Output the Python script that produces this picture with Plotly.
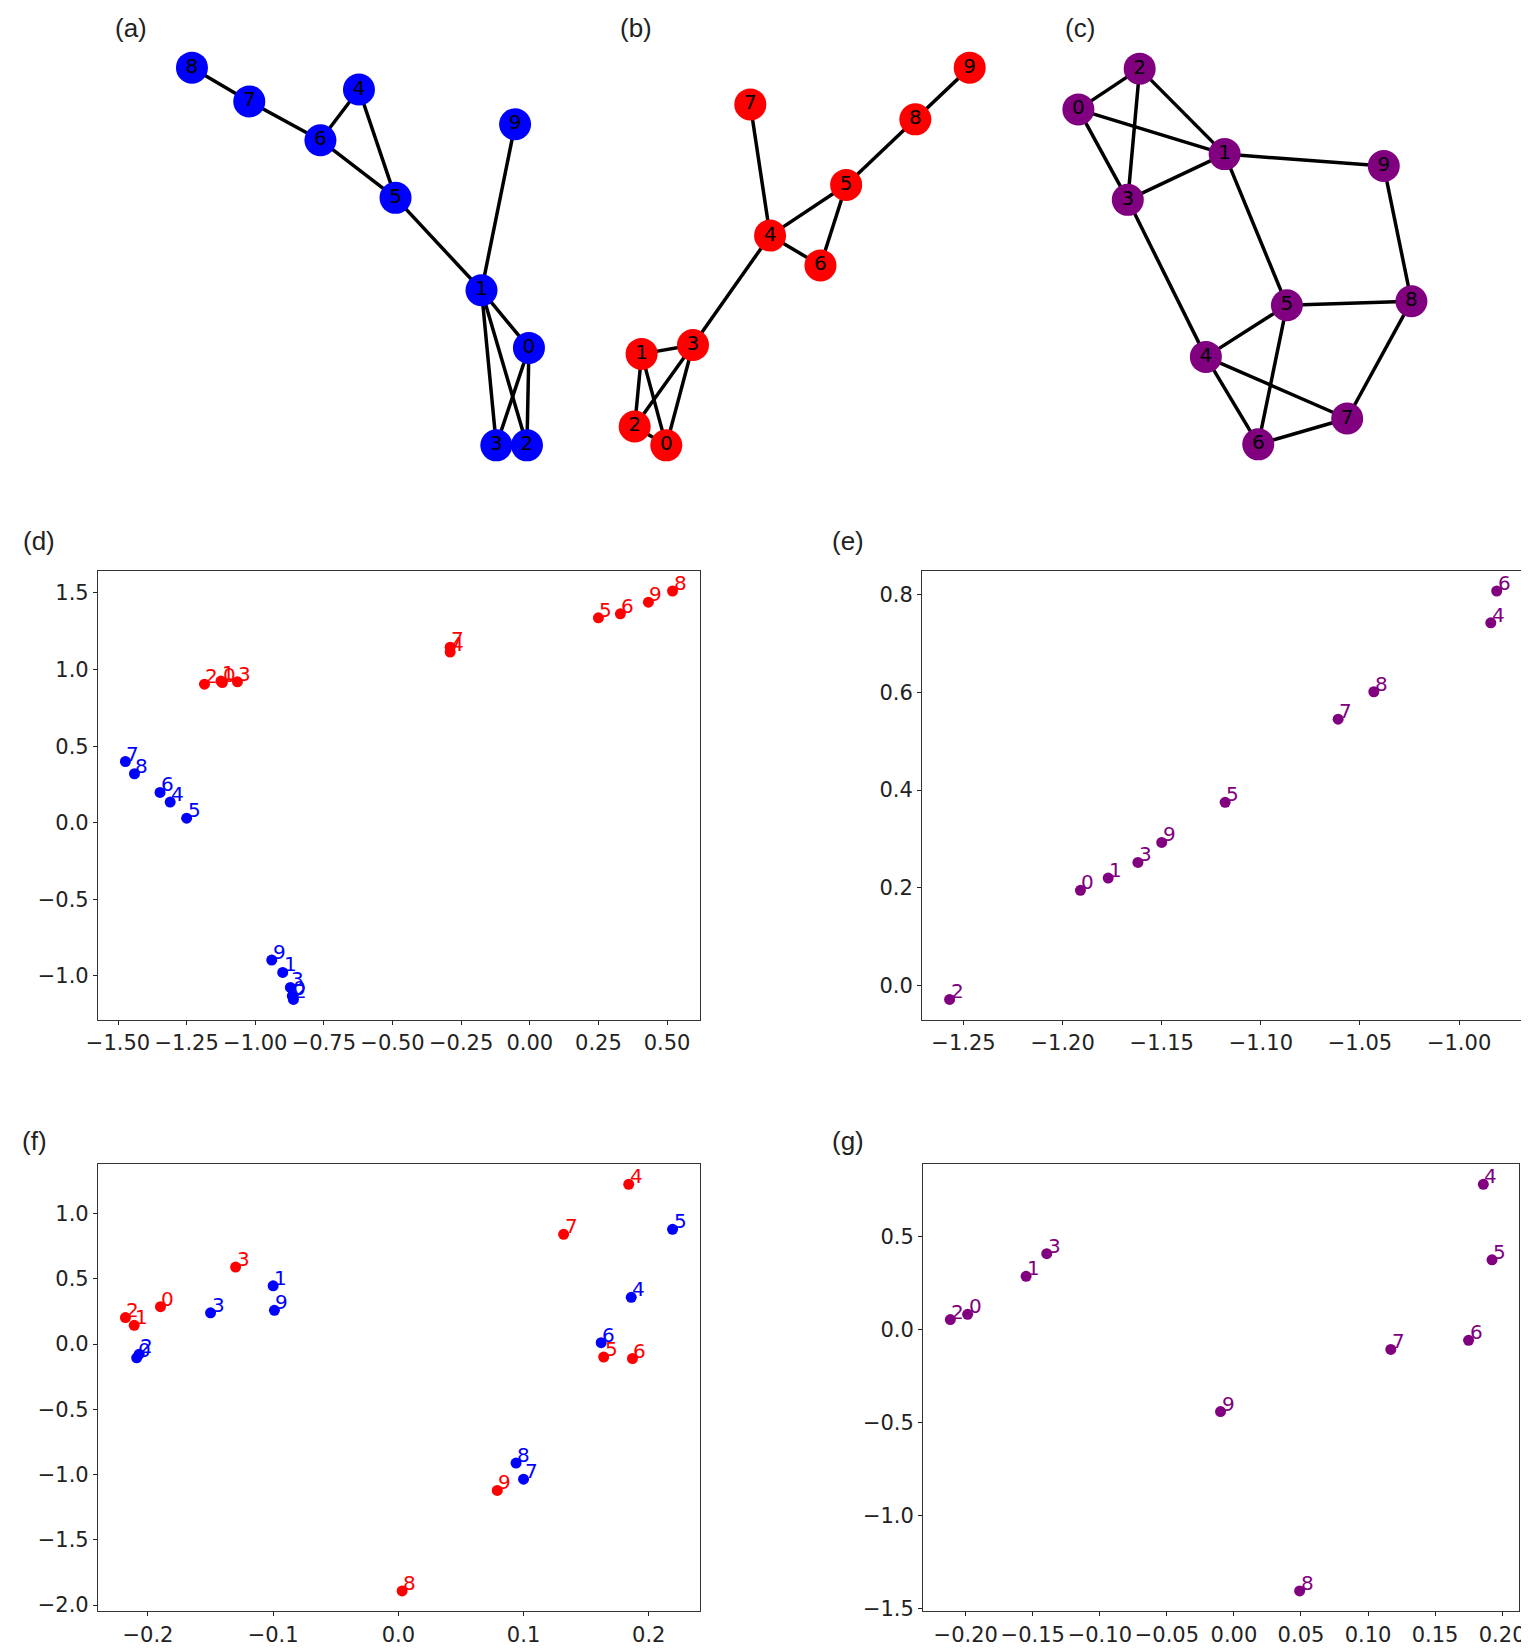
import plotly.graph_objects as go

# ---- graph drawings (a)-(c): node layout, page pixels ----
a_x = [515, 467, 513, 482, 343, 380, 304, 232, 174, 501]
a_y = [342, 284, 440, 440, 82, 191, 133, 94, 60, 117]
a_edges = [(8, 7), (7, 6), (6, 4), (6, 5), (4, 5), (5, 1), (1, 9), (1, 0),
           (1, 3), (1, 2), (0, 3), (0, 2)]

b_x = [654, 629, 622, 681, 759, 836, 810, 739, 906, 961]
b_y = [440, 348, 421, 339, 229, 178, 259, 97, 112, 60]
b_edges = [(7, 4), (4, 5), (4, 6), (5, 6), (5, 8), (8, 9), (4, 3), (3, 1),
           (1, 2), (1, 0), (3, 2), (3, 0), (2, 0)]

c_x = [1071, 1219, 1133, 1121, 1200, 1282, 1253, 1343, 1408, 1380]
c_y = [102, 147, 61, 193, 351, 299, 439, 413, 295, 159]
c_edges = [(0, 2), (0, 1), (0, 3), (2, 3), (2, 1), (1, 3), (1, 9), (1, 5),
           (3, 4), (9, 8), (5, 8), (5, 4), (5, 6), (4, 6), (4, 7), (6, 7), (8, 7)]

labels = [str(i) for i in range(10)]

# ---- embeddings (d)-(g), node i at index i ----
d_blue_x = [-0.865, -0.900, -0.861, -0.872, -1.310, -1.250, -1.347, -1.473, -1.440, -0.940]
d_blue_y = [-1.130, -0.977, -1.153, -1.075, 0.135, 0.030, 0.198, 0.400, 0.320, -0.896]
d_red_x = [-1.120, -1.125, -1.185, -1.065, -0.290, 0.250, 0.330, -0.290, 0.520, 0.432]
d_red_y = [0.915, 0.925, 0.905, 0.920, 1.114, 1.338, 1.364, 1.146, 1.513, 1.440]

e_x = [-1.191, -1.177, -1.257, -1.162, -0.984, -1.118, -0.981, -1.061, -1.043, -1.150]
e_y = [0.195, 0.220, -0.028, 0.252, 0.742, 0.375, 0.807, 0.545, 0.601, 0.293]

f_blue_x = [-0.209, -0.100, -0.207, -0.150, 0.186, 0.219, 0.162, 0.100, 0.094, -0.099]
f_blue_y = [-0.105, 0.447, -0.077, 0.240, 0.359, 0.880, 0.011, -1.035, -0.911, 0.259]
f_red_x = [-0.190, -0.211, -0.218, -0.130, 0.184, 0.164, 0.187, 0.132, 0.003, 0.079]
f_red_y = [0.287, 0.144, 0.204, 0.591, 1.225, -0.099, -0.110, 0.842, -1.891, -1.121]

g_x = [-0.1986, -0.155, -0.2115, -0.1396, 0.186, 0.1925, 0.175, 0.117, 0.049, -0.010]
g_y = [0.082, 0.286, 0.054, 0.408, 0.781, 0.375, -0.058, -0.107, -1.405, -0.441]

# tick values and decimals per panel
d_xticks = [-1.5, -1.25, -1.0, -0.75, -0.5, -0.25, 0.0, 0.25, 0.5]
d_yticks = [-1.0, -0.5, 0.0, 0.5, 1.0, 1.5]
e_xticks = [-1.25, -1.20, -1.15, -1.10, -1.05, -1.00]
e_yticks = [0.0, 0.2, 0.4, 0.6, 0.8]
f_xticks = [-0.2, -0.1, 0.0, 0.1, 0.2]
f_yticks = [-2.0, -1.5, -1.0, -0.5, 0.0, 0.5, 1.0]
g_xticks = [-0.20, -0.15, -0.10, -0.05, 0.0, 0.05, 0.10, 0.15, 0.20]
g_yticks = [-1.5, -1.0, -0.5, 0.0, 0.5]

BLUE = "#0000ff"
RED = "#ff0000"
PURPLE = "#800080"
W, H = 1529, 1652
TOP_H = 470


def fmt(vals, nd):
    return [f"{v:.{nd}f}".replace("-", "\u2212") for v in vals]


def padded(*arrs):
    lo = min(min(a) for a in arrs)
    hi = max(max(a) for a in arrs)
    m = (hi - lo) * 0.05
    return [lo - m, hi + m]


fig = go.Figure()

# ---- top row: networks ----
for xs, ys, edges, col in [(a_x, a_y, a_edges, BLUE),
                           (b_x, b_y, b_edges, RED),
                           (c_x, c_y, c_edges, PURPLE)]:
    ex, ey = [], []
    for u, v in edges:
        ex += [xs[u], xs[v], None]
        ey += [ys[u], ys[v], None]
    fig.add_trace(go.Scatter(x=ex, y=ey, mode="lines", xaxis="x5", yaxis="y5",
                             line=dict(color="black", width=3.5), hoverinfo="skip"))
    fig.add_trace(go.Scatter(x=xs, y=ys, mode="markers+text", text=labels,
                             xaxis="x5", yaxis="y5",
                             marker=dict(size=32, color=col),
                             textposition="middle center",
                             textfont=dict(family="DejaVu Sans", size=20, color="black")))

# ---- scatter panels ----
panels = [
    ("x", "y", [(d_blue_x, d_blue_y, BLUE), (d_red_x, d_red_y, RED)],
     d_xticks, 2, d_yticks, 1, [79, 688], [566, 1018]),
    ("x2", "y2", [(e_x, e_y, PURPLE)],
     e_xticks, 2, e_yticks, 1, [913, 1522], [566, 1018]),
    ("x3", "y3", [(f_blue_x, f_blue_y, BLUE), (f_red_x, f_red_y, RED)],
     f_xticks, 1, f_yticks, 1, [79, 688], [1163, 1613]),
    ("x4", "y4", [(g_x, g_y, PURPLE)],
     g_xticks, 2, g_yticks, 1, [914, 1517], [1163, 1613]),
]

annotations = []
for i, (xr, yr, series, xt, xd, yt, yd, px, py) in enumerate(panels):
    for xs, ys, col in series:
        fig.add_trace(go.Scatter(x=xs, y=ys, mode="markers", xaxis=xr, yaxis=yr,
                                 marker=dict(size=11, color=col)))
        for k in range(len(xs)):
            annotations.append(dict(x=xs[k], y=ys[k], xref=xr, yref=yr, text=labels[k],
                                    showarrow=False, xanchor="left", yanchor="bottom",
                                    xshift=-1, yshift=-6,
                                    font=dict(family="DejaVu Sans", size=20, color=col)))
    axis_style = dict(showline=True, mirror=True, linecolor="#333", linewidth=1.3,
                      ticks="outside", ticklen=4, tickwidth=1.3, tickcolor="#222",
                      showgrid=False, zeroline=False, tickangle=0,
                      ticklabeloverflow="allow",
                      tickfont=dict(family="DejaVu Sans", size=21, color="#222"))
    sx = "" if i == 0 else str(i + 1)
    fig.layout["xaxis" + sx] = dict(axis_style, domain=[px[0] / W, px[1] / W],
                                    range=padded(*[s[0] for s in series]),
                                    tickvals=xt, ticktext=fmt(xt, xd), anchor=yr)
    fig.layout["yaxis" + sx] = dict(axis_style, domain=[1 - py[1] / H, 1 - py[0] / H],
                                    range=padded(*[s[1] for s in series]),
                                    tickvals=yt, ticktext=fmt(yt, yd), anchor=xr)

# panel letters
for txt, x, y in [("(a)", 112, 20), ("(b)", 623, 20), ("(c)", 1073, 20),
                  ("(d)", 19, 536), ("(e)", 838, 536), ("(f)", 15, 1140), ("(g)", 838, 1140)]:
    annotations.append(dict(x=x / W, y=1 - y / H, xref="paper", yref="paper", text=txt,
                            showarrow=False, xanchor="center", yanchor="middle",
                            font=dict(family="Liberation Sans", size=26, color="#222")))

fig.update_layout(
    width=W, height=H,
    margin=dict(l=0, r=0, t=0, b=0),
    paper_bgcolor="white", plot_bgcolor="white",
    showlegend=False,
    annotations=annotations,
    xaxis5=dict(domain=[0, 1], range=[0, W], visible=False, anchor="y5"),
    yaxis5=dict(domain=[1 - TOP_H / H, 1], range=[TOP_H, 0], visible=False, anchor="x5"),
)

fig.write_html("out.html")
